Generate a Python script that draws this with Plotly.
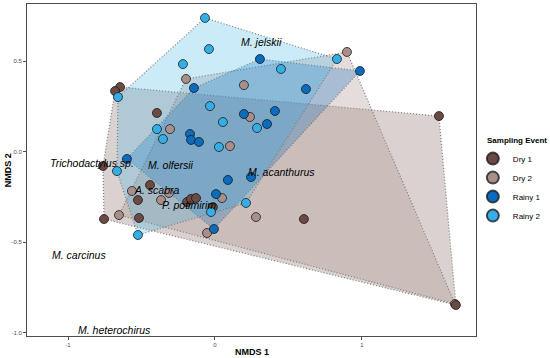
import plotly.graph_objects as go

groups = ["Dry 1", "Dry 2", "Rainy 1", "Rainy 2"]

dry1_x = [-0.646, -0.680, -0.395, -0.762, -0.442, -0.524, -0.190, -0.163, -0.129, -0.014, -0.755, -0.517, 0.605, 1.524, 1.639]
dry1_y = [0.357, 0.335, 0.214, -0.079, -0.184, -0.267, -0.278, -0.261, -0.256, -0.306, -0.372, -0.366, -0.372, 0.197, -0.847]

dry2_x = [0.898, -0.197, 0.197, 0.238, -0.306, 0.102, -0.565, -0.313, -0.367, 0.048, -0.653, 0.279, -0.054, 1.633]
dry2_y = [0.551, 0.402, 0.368, 0.192, 0.125, 0.031, -0.217, -0.228, -0.267, -0.256, -0.350, -0.361, -0.449, -0.841]

rainy1_x = [-0.143, 0.306, 0.619, 0.986, 0.197, 0.408, 0.354, -0.170, -0.163, -0.109, -0.599, 0.088, 0.245, 0.007, -0.007]
rainy1_y = [0.352, 0.512, 0.346, 0.446, 0.208, 0.225, 0.153, 0.098, 0.065, 0.054, -0.040, -0.156, -0.140, -0.234, -0.427]

rainy2_x = [-0.068, -0.041, -0.218, -0.660, -0.034, 0.054, -0.395, -0.354, 0.286, 0.449, 0.830, 0.027, -0.667, 0.211, -0.027, -0.524]
rainy2_y = [0.739, 0.567, 0.484, 0.302, 0.252, 0.164, 0.125, 0.070, 0.131, 0.457, 0.512, 0.026, -0.107, -0.283, -0.333, -0.460]

species = ["M. jelskii", "Trichodactylus sp.", "M. olfersii", "M. acanthurus",
           "A. scabra", "P. potimirim", "M. carcinus", "M. heterochirus"]
species_x = [0.318, -0.838, -0.298, 0.452, -0.394, -0.180, -0.926, -0.684]
species_y = [0.606, -0.062, -0.074, -0.112, -0.212, -0.294, -0.571, -0.985]

x_ticks = [-1, 0, 1]
x_ticklabels = ["-1", "0", "1"]
y_ticks = [-1.0, -0.5, 0.0, 0.5]
y_ticklabels = ["-1.0", "-0.5", "0.0", "0.5"]

colors = ["#6b4a44", "#a88f89", "#0b6bbd", "#35aee6"]
fills = ["rgba(107,74,68,0.25)", "rgba(168,143,137,0.30)", "rgba(11,107,189,0.28)", "rgba(53,174,230,0.25)"]

xs = [dry1_x, dry2_x, rainy1_x, rainy2_x]
ys = [dry1_y, dry2_y, rainy1_y, rainy2_y]


def hull(px, py):
    pts = sorted(set(zip(px, py)))
    def cross(o, a, b):
        return (a[0]-o[0])*(b[1]-o[1]) - (a[1]-o[1])*(b[0]-o[0])
    lower, upper = [], []
    for p in pts:
        while len(lower) >= 2 and cross(lower[-2], lower[-1], p) <= 0:
            lower.pop()
        lower.append(p)
    for p in reversed(pts):
        while len(upper) >= 2 and cross(upper[-2], upper[-1], p) <= 0:
            upper.pop()
        upper.append(p)
    h = lower[:-1] + upper[:-1]
    h.append(h[0])
    return [p[0] for p in h], [p[1] for p in h]


fig = go.Figure()
for g, x, y, fc in zip(groups, xs, ys, fills):
    hx, hy = hull(x, y)
    fig.add_trace(go.Scatter(x=hx, y=hy, mode="lines", fill="toself", fillcolor=fc,
                             line=dict(color="rgba(120,120,120,0.95)", width=1.2, dash="1px,2px"),
                             showlegend=False, hoverinfo="skip"))

order = [1, 0, 2, 3]
for i in order:
    fig.add_trace(go.Scatter(x=xs[i], y=ys[i], mode="markers", name=groups[i], legendrank=i + 1,
                             marker=dict(size=9, color=colors[i],
                                         line=dict(color="rgba(20,20,20,0.75)", width=1))))

for s, x, y in zip(species, species_x, species_y):
    fig.add_annotation(x=x, y=y, text=s, showarrow=False, xref="x", yref="y",
                       font=dict(family="Liberation Sans", size=10.5, color="black", style="italic"))

fig.add_annotation(x=0.5, y=-0.048, xref="paper", yref="paper", text="<b>NMDS 1</b>",
                   showarrow=False, yanchor="middle", font=dict(size=9, color="black"))
fig.add_annotation(x=-0.042, y=0.5, xref="paper", yref="paper", text="<b>NMDS 2</b>",
                   showarrow=False, textangle=-90, xanchor="center", font=dict(size=9, color="black"))
fig.add_annotation(x=1.02, y=0.59, xref="paper", yref="paper", text="<b>Sampling Event</b>",
                   showarrow=False, xanchor="left", yanchor="middle", font=dict(size=8, color="black"))

axis_common = dict(showgrid=False, zeroline=False, showline=True, mirror=True, automargin=False,
                   linecolor="#4d4d4d", linewidth=1, ticks="outside", ticklen=3,
                   tickcolor="#4d4d4d", tickfont=dict(size=6, color="#4d4d4d"))

fig.update_xaxes(range=[-1.279, 1.776], tickvals=x_ticks, ticktext=x_ticklabels, **axis_common)
fig.update_yaxes(range=[-1.018, 0.816], tickvals=y_ticks, ticktext=y_ticklabels, **axis_common)

fig.update_layout(
    width=550, height=358,
    margin=dict(l=27, r=74, t=4, b=22, autoexpand=False),
    plot_bgcolor="white", paper_bgcolor="white",
    font=dict(family="Liberation Sans"),
    legend=dict(font=dict(size=8, color="black"), x=0.993, y=0.578, xanchor="left", yanchor="top",
                tracegroupgap=0, itemsizing="constant", itemwidth=30,
                bgcolor="rgba(0,0,0,0)"),
)

fig.write_html("out.html", config={"displayModeBar": False},
               post_script="document.body.style.margin='0';")
